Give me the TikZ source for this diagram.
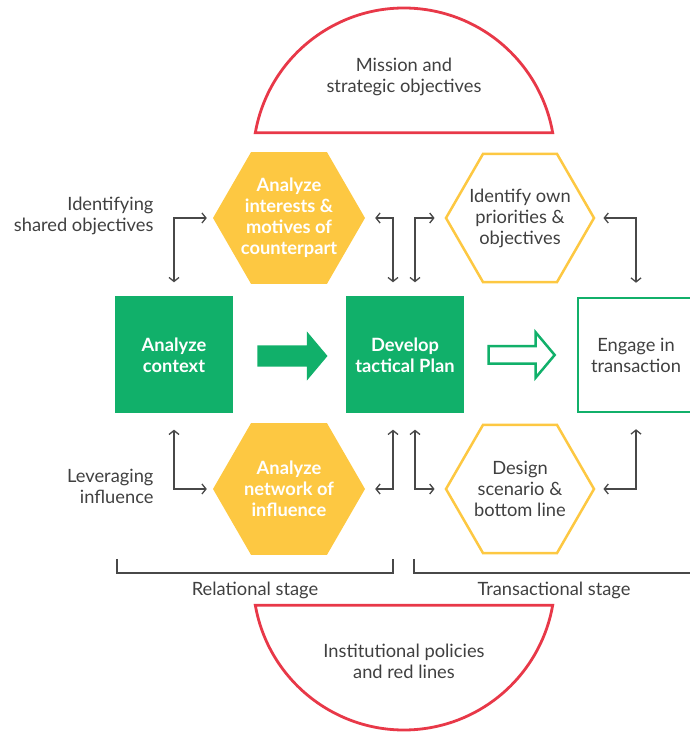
\documentclass[tikz,border=0pt]{standalone}
\usepackage{fontspec}
\setmainfont{Lato}
\usetikzlibrary{arrows.meta,shapes.geometric,shapes.arrows}
\definecolor{leafgreen}{RGB}{17,176,106}
\definecolor{sunyellow}{RGB}{253,200,66}
\definecolor{alertred}{RGB}{232,56,72}
\definecolor{inkgray}{RGB}{64,64,64}
\definecolor{linkgray}{RGB}{72,72,72}
\begin{document}
\begin{tikzpicture}[x=1pt, y=1pt,
  txt/.style={text=inkgray, align=center, font=\fontsize{18.3}{21}\selectfont},
  greenbox/.style={fill=leafgreen, minimum width=118pt, minimum height=117pt, inner sep=0pt, text=white, align=center, font=\fontsize{18.3}{21}\selectfont\bfseries},
  hexfill/.style={regular polygon, regular polygon sides=6, minimum size=152pt, inner sep=-20pt, fill=sunyellow, text=white, align=center, font=\fontsize{18.3}{21}\selectfont\bfseries},
  hexline/.style={regular polygon, regular polygon sides=6, minimum size=148pt, draw=sunyellow, line width=2.5pt, txt, inner sep=-20pt},
  link/.style={draw=linkgray, line width=1.3pt, {Straight Barb[length=4pt,width=10pt]}-{Straight Barb[length=4pt,width=10pt]}},
  bracket/.style={draw=linkgray, line width=1.3pt},
  redline/.style={draw=alertred, line width=2.8pt}]
\useasboundingbox (0,0) rectangle (690,732);
% red half discs
\draw[redline] (255.3,599.2) arc[start angle=170, end angle=10, radius=151] -- cycle;
\draw[redline] (255.3,126.8) arc[start angle=190, end angle=350, radius=151] -- cycle;
\node[txt] (mission) at (404,655) {Mission and\\strategic objectives};
\node[txt] (policies) at (404,71) {Institutional policies\\and red lines};
% main row
\node[greenbox] (ctx) at (174,377) {Analyze\\context};
\node[greenbox] (plan) at (405,377) {Develop\\tactical Plan};
\node[draw=leafgreen, line width=2.5pt, minimum width=116pt, minimum height=114pt, inner sep=0pt, txt] (engage) at (636,377) {Engage in\\transaction};
\node[single arrow, fill=leafgreen, inner sep=10.5pt, single arrow head extend=14pt, single arrow tip angle=100, minimum height=70pt] (go1) at (288,376) {};
\node[single arrow, draw=leafgreen, fill=white, line width=2.5pt, inner sep=7.5pt, single arrow head extend=14pt, single arrow tip angle=100, minimum height=66pt] (go2) at (518,377) {};
% hexagons
\node[hexfill] (interests) at (289,514) {Analyze\\interests \&\\motives of\\counterpart};
\node[hexline] (priorities) at (520,514) {Identify own\\priorities \&\\objectives};
\node[hexfill] (network) at (289,243) {Analyze\\network of\\influence};
\node[hexline] (scenario) at (520,243) {Design\\scenario \&\\bottom line};
% side labels
\node[txt, align=right, anchor=east] (shared) at (157,516) {Identifying\\shared objectives};
\node[txt, align=right, anchor=east] (leverage) at (157,246) {Leveraging\\influence};
% connectors
\draw[link, shorten <=6pt, shorten >=14pt] (interests.west) -| (ctx.north);
\draw[link, shorten <=6pt, shorten >=16pt] (network.west) -| (ctx.south);
\draw[link, shorten <=10pt, shorten >=14pt] (interests.east) -| ([xshift=-12pt]plan.north);
\draw[link, shorten <=14pt, shorten >=10pt] ([xshift=10pt]plan.north) |- (priorities.west);
\draw[link, shorten <=10pt, shorten >=16pt] (network.east) -| ([xshift=-12pt]plan.south);
\draw[link, shorten <=16pt, shorten >=10pt] ([xshift=10pt]plan.south) |- (scenario.west);
\draw[link, shorten <=8pt, shorten >=14pt] (priorities.east) -| (engage.north);
\draw[link, shorten <=8pt, shorten >=16pt] (scenario.east) -| (engage.south);
% stages
\draw[bracket] (117,173) -- (117,159) -- (393,159) -- (393,173);
\draw[bracket] (414,173) -- (414,159) -- (694,159);
\node[txt] (relational) at (255,142) {Relational stage};
\node[txt] (transactional) at (554,142) {Transactional stage};
\end{tikzpicture}
\end{document}
